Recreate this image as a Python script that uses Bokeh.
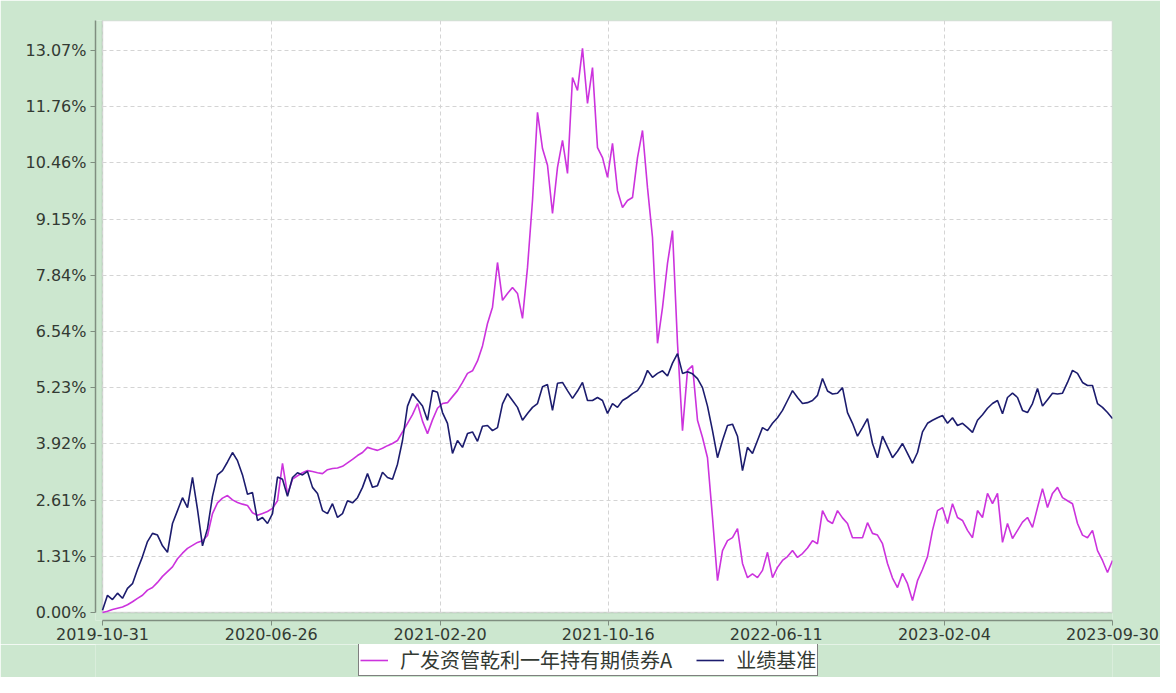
import pandas as pd
from bokeh.plotting import figure
from bokeh.layouts import column
from bokeh.models import (FixedTicker, DatetimeTickFormatter, PrintfTickFormatter,
                          BoxAnnotation, Legend, LegendItem, Range1d)
from bokeh.embed import file_html
from bokeh.resources import INLINE

start_date = "2019-10-31"
end_date = "2023-09-30"
fund_name = "广发资管乾利一年持有期债券A"
bench_name = "业绩基准"

x_tick_labels = ["2019-10-31", "2020-06-26", "2021-02-20", "2021-10-16",
                 "2022-06-11", "2023-02-04", "2023-09-30"]
y_tick_values = [0.00, 1.31, 2.61, 3.92, 5.23, 6.54, 7.84, 9.15, 10.46, 11.76, 13.07]

# cumulative return (%), sampled weekly from start to end
fund = [
    0.00, 0.03, 0.07, 0.10, 0.13, 0.18, 0.25, 0.33, 0.40, 0.52,
    0.58, 0.70, 0.84, 0.95, 1.06, 1.25, 1.38, 1.49, 1.56, 1.63,
    1.67, 1.79, 2.30, 2.55, 2.66, 2.72, 2.62, 2.56, 2.52, 2.49,
    2.32, 2.26, 2.30, 2.35, 2.42, 2.60, 3.47, 2.75, 3.10, 3.18,
    3.25, 3.30, 3.28, 3.25, 3.23, 3.32, 3.35, 3.36, 3.40, 3.48,
    3.56, 3.65, 3.72, 3.84, 3.80, 3.77, 3.82, 3.88, 3.93, 4.00,
    4.20, 4.40, 4.60, 4.86, 4.45, 4.16, 4.48, 4.75, 4.86, 4.88,
    5.02, 5.16, 5.35, 5.56, 5.62, 5.85, 6.20, 6.72, 7.10, 8.14,
    7.26, 7.42, 7.56, 7.42, 6.84, 8.02, 9.58, 11.63, 10.79, 10.40,
    9.28, 10.35, 10.98, 10.21, 12.44, 12.14, 13.12, 11.84, 12.67, 10.81,
    10.58, 10.12, 10.91, 9.81, 9.42, 9.58, 9.65, 10.58, 11.21, 9.88,
    8.72, 6.26, 7.09, 8.12, 8.88, 6.26, 4.23, 5.63, 5.74, 4.47,
    4.07, 3.60, 2.21, 0.74, 1.44, 1.67, 1.74, 1.95, 1.14, 0.81,
    0.90, 0.81, 0.98, 1.40, 0.81, 1.05, 1.21, 1.30, 1.44, 1.28,
    1.37, 1.50, 1.67, 1.60, 2.37, 2.14, 2.07, 2.37, 2.20, 2.07,
    1.74, 1.74, 1.74, 2.09, 1.84, 1.80, 1.60, 1.14, 0.80, 0.58,
    0.91, 0.67, 0.28, 0.74, 1.00, 1.30, 1.91, 2.37, 2.44, 2.07,
    2.53, 2.21, 2.14, 1.91, 1.74, 2.37, 2.21, 2.77, 2.53, 2.77,
    1.63, 2.07, 1.72, 1.91, 2.10, 2.21, 1.98, 2.44, 2.88, 2.44,
    2.77, 2.91, 2.67, 2.60, 2.53, 2.07, 1.80, 1.74, 1.91, 1.44,
    1.21, 0.93, 1.21,
]

bench = [
    0.05, 0.40, 0.30, 0.45, 0.33, 0.56, 0.67, 1.00, 1.30, 1.65,
    1.84, 1.80, 1.55, 1.40, 2.07, 2.37, 2.67, 2.44, 3.14, 2.40,
    1.55, 1.95, 2.70, 3.20, 3.30, 3.50, 3.72, 3.53, 3.20, 2.75,
    2.79, 2.14, 2.21, 2.07, 2.30, 3.15, 3.10, 2.70, 3.14, 3.25,
    3.20, 3.28, 2.91, 2.77, 2.37, 2.30, 2.53, 2.21, 2.30, 2.60,
    2.55, 2.67, 2.91, 3.23, 2.91, 2.95, 3.26, 3.14, 3.10, 3.45,
    4.00, 4.80, 5.09, 4.95, 4.80, 4.47, 5.16, 5.12, 4.65, 4.40,
    3.70, 4.00, 3.84, 4.16, 4.20, 3.98, 4.33, 4.35, 4.23, 4.30,
    4.85, 5.09, 4.93, 4.77, 4.47, 4.63, 4.77, 4.86, 5.25, 5.30,
    4.70, 5.33, 5.35, 5.16, 4.98, 5.15, 5.35, 4.93, 4.93, 5.00,
    4.93, 4.63, 4.86, 4.77, 4.93, 5.00, 5.09, 5.16, 5.33, 5.63,
    5.47, 5.56, 5.62, 5.50, 5.80, 6.02, 5.56, 5.60, 5.55, 5.44,
    5.23, 4.80, 4.23, 3.60, 4.00, 4.35, 4.38, 4.10, 3.30, 3.84,
    3.70, 4.00, 4.30, 4.23, 4.40, 4.53, 4.70, 4.93, 5.16, 5.00,
    4.86, 4.88, 4.93, 5.05, 5.44, 5.15, 5.08, 5.10, 5.23, 4.65,
    4.40, 4.10, 4.30, 4.51, 3.93, 3.60, 4.10, 3.85, 3.60, 3.75,
    3.93, 3.70, 3.47, 3.72, 4.20, 4.40, 4.47, 4.53, 4.58, 4.40,
    4.53, 4.35, 4.40, 4.30, 4.19, 4.47, 4.60, 4.75, 4.86, 4.93,
    4.62, 5.00, 5.10, 5.00, 4.70, 4.65, 4.86, 5.21, 4.80, 4.95,
    5.10, 5.08, 5.10, 5.35, 5.63, 5.56, 5.35, 5.28, 5.28, 4.86,
    4.77, 4.65, 4.51,
]

GREEN = "#cce7cf"
AXIS = "#7f8e80"
TEXT = "#333a33"
FUND_COLOR = "#cc33dd"
BENCH_COLOR = "#1c1c6e"

dates = pd.date_range(start_date, end_date, periods=len(fund))
t0 = pd.Timestamp(start_date)
t1 = pd.Timestamp(end_date)
ms = lambda t: t.value // 10**6
x_ticks = [ms(pd.Timestamp(s)) for s in x_tick_labels]

y_top = 13.767
x_range = Range1d(start=ms(t0) - 9.9 * 86400000, end=ms(t1))
y_range = Range1d(start=-0.186, end=y_top)

p = figure(width=1160, height=644, x_axis_type="datetime",
           x_range=x_range, y_range=y_range,
           output_backend="svg", toolbar_location=None,
           min_border_left=95, min_border_right=48,
           min_border_top=20, min_border_bottom=24,
           background_fill_color=GREEN, border_fill_color=GREEN,
           outline_line_color=None)

# white plotting area
p.add_layout(BoxAnnotation(left=ms(t0), right=ms(t1), bottom=0,
                           fill_color="white", fill_alpha=1.0,
                           line_color="#7a877a", line_width=1.5,
                           level="image"))

# grids
p.xgrid.ticker = FixedTicker(ticks=x_ticks)
p.ygrid.ticker = FixedTicker(ticks=y_tick_values)
for g in (p.xgrid[0], p.ygrid[0]):
    g.grid_line_color = "#d4d4d4"
    g.grid_line_dash = "4 3"
    g.grid_line_width = 1
if "cross_bounds" in p.ygrid[0].properties():
    p.ygrid[0].cross_bounds = (ms(t0), ms(t1))
    p.xgrid[0].cross_bounds = (0, y_top)

r_fund = p.line(dates, fund, line_color=FUND_COLOR, line_width=1.6)
r_bench = p.line(dates, bench, line_color=BENCH_COLOR, line_width=1.6)

# axes
xa = p.xaxis[0]
xa.ticker = FixedTicker(ticks=x_ticks)
fmt = "%Y-%m-%d"
xa.formatter = DatetimeTickFormatter(days=fmt, months=fmt, years=fmt, hours=fmt,
                                     hourmin=fmt, minutes=fmt, minsec=fmt,
                                     seconds=fmt, milliseconds=fmt, microseconds=fmt)
xa.bounds = (ms(t0), ms(t1))
ya = p.yaxis[0]
ya.ticker = FixedTicker(ticks=y_tick_values)
ya.formatter = PrintfTickFormatter(format="%.2f%%")
ya.bounds = (0, y_top)
for ax in (xa, ya):
    ax.axis_line_color = AXIS
    ax.axis_line_width = 1.5
    ax.major_tick_line_color = AXIS
    ax.major_tick_in = 0
    ax.major_tick_out = 5
    ax.minor_tick_line_color = None
    ax.major_label_text_font = "DejaVu Sans"
    ax.major_label_text_font_size = "16px"
    ax.major_label_text_color = TEXT
xa.major_label_standoff = 2
ya.major_label_standoff = 4

# legend strip below the chart (legend-only renderers, nothing visible)
nan = float("nan")
lg = figure(width=1160, height=33, output_backend="svg", toolbar_location=None,
            x_range=Range1d(0, 1), y_range=Range1d(0, 1),
            x_axis_location=None, y_axis_location=None,
            min_border=0, background_fill_color=GREEN, border_fill_color=GREEN,
            outline_line_color=None)
lg.grid.visible = False
l_fund = lg.line(x=[nan], y=[nan], line_color=FUND_COLOR, line_width=1.6)
l_bench = lg.line(x=[nan], y=[nan], line_color=BENCH_COLOR, line_width=1.6)
legend = Legend(items=[LegendItem(label=fund_name, renderers=[l_fund]),
                       LegendItem(label=bench_name, renderers=[l_bench])],
                orientation="horizontal", location=(263, 1),
                border_line_color="black", border_line_width=1,
                background_fill_color="white", background_fill_alpha=1.0,
                label_text_font="Noto Sans CJK SC", label_text_font_size="20px",
                label_text_color=TEXT, glyph_width=28, glyph_height=14,
                padding=1, spacing=24, label_standoff=12, margin=0,
                label_height=18)
lg.add_layout(legend, "center")

layout = column(p, lg, spacing=0)
open("out.html", "w").write(file_html(layout, INLINE))
